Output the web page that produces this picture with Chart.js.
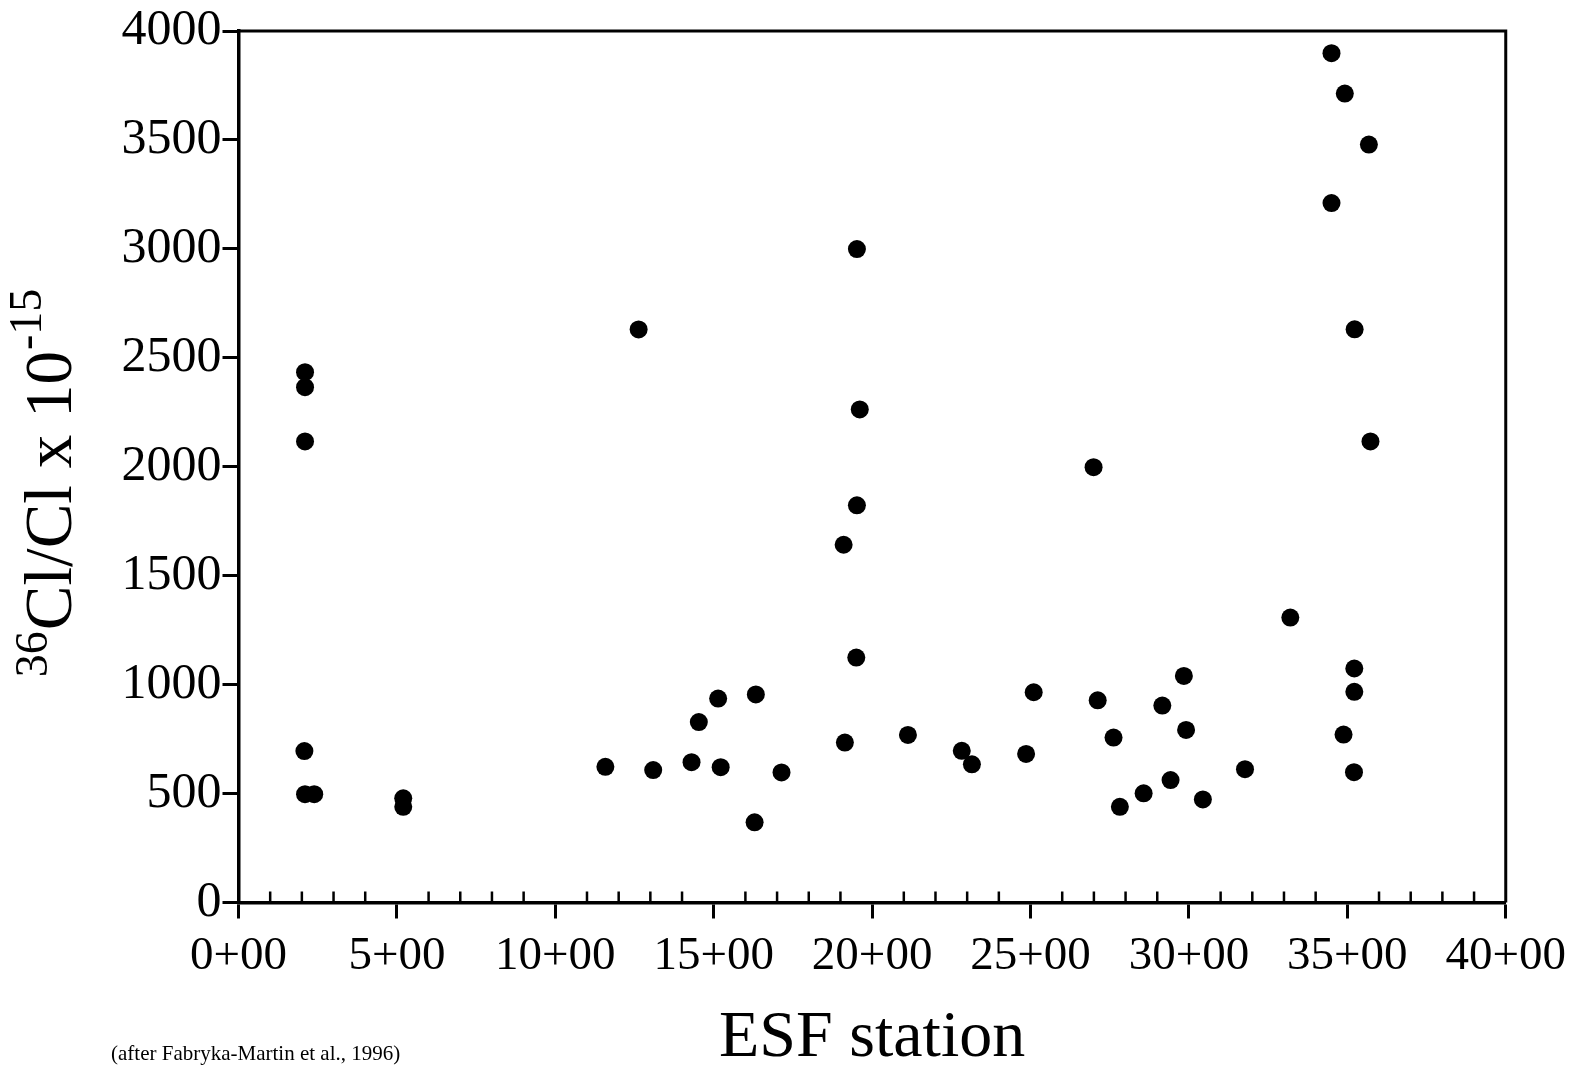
<!DOCTYPE html>
<html>
<head>
<meta charset="utf-8">
<script src="https://cdn.jsdelivr.net/npm/chart.js@4.4.1/dist/chart.umd.min.js"></script>
<style>
  html, body { margin: 0; padding: 0; background: #fff; }
  canvas { display: block; }
</style>
</head>
<body>
<canvas id="c" width="1576" height="1069"></canvas>
<script>
// ---- data ----
const stations = [
  2.10, 2.10, 2.10, 2.08, 2.10, 2.39,
  5.20, 5.20,
  11.58, 12.63, 13.09, 14.30, 14.53, 15.14, 15.22, 16.33, 16.29, 17.14,
  19.10, 19.14, 19.50, 19.52, 19.61, 19.52,
  21.13, 22.83, 23.15, 24.86, 25.10,
  26.99, 27.12, 27.62, 27.82, 28.57, 29.16, 29.42, 29.84, 29.91, 30.44, 31.77,
  33.20, 34.50, 34.92, 35.68, 34.50, 35.23, 35.73, 35.22, 35.22, 34.88, 35.21
];
const ratios = [
  2434, 2365, 2116, 695, 497, 497,
  478, 439,
  623, 2630, 608, 644, 828, 936, 621, 955, 368, 597,
  1642, 734, 1124, 1823, 2263, 2999,
  769, 696, 634, 682, 965,
  1998, 928, 757, 439, 501, 904, 562, 1040, 792, 473, 612,
  1308, 3898, 3713, 3479, 3210, 2631, 2116, 1074, 967, 771, 598
];
const xTickLabels = ['0+00', '5+00', '10+00', '15+00', '20+00', '25+00', '30+00', '35+00', '40+00'];
const yTickValues = [0, 500, 1000, 1500, 2000, 2500, 3000, 3500, 4000];
const xTitle = 'ESF station';
const yTitleParts = { pre: '36', main: 'Cl/Cl x 10', post: '-15' };
const footnote = '(after Fabryka-Martin et al., 1996)';

const SERIF = '"Liberation Serif", "Times New Roman", serif';

const decorations = {
  id: 'decorations',
  afterDraw(chart) {
    const { ctx, chartArea: a, scales: { x } } = chart;
    ctx.save();
    ctx.strokeStyle = '#000';
    ctx.fillStyle = '#000';
    // top and right frame
    ctx.lineWidth = 3;
    ctx.beginPath();
    ctx.moveTo(a.left, a.top);
    ctx.lineTo(a.right, a.top);
    ctx.lineTo(a.right, a.bottom);
    ctx.stroke();
    // minor ticks on x axis, pointing into the plot
    ctx.lineWidth = 2.5;
    ctx.beginPath();
    for (let v = 1; v < 40; v++) {
      if (v % 5 === 0) continue;
      const px = x.getPixelForValue(v);
      ctx.moveTo(px, a.bottom);
      ctx.lineTo(px, a.bottom - 11);
    }
    ctx.stroke();

    // y-axis title with superscripts
    const mainSize = 67, supSize = 46;
    const mainFont = mainSize + 'px ' + SERIF;
    const supFont = supSize + 'px ' + SERIF;
    ctx.font = supFont;
    const wPre = ctx.measureText(yTitleParts.pre).width;
    const wPost = ctx.measureText(yTitleParts.post).width;
    ctx.font = mainFont;
    const wMain = ctx.measureText(yTitleParts.main).width;
    const W = wPre + wMain + wPost + 2;
    ctx.translate(71, 483);
    ctx.rotate(-Math.PI / 2);
    ctx.textBaseline = 'alphabetic';
    ctx.textAlign = 'left';
    let cx = -W / 2;
    ctx.font = supFont;
    ctx.fillText(yTitleParts.pre, cx, -24);
    cx += wPre + 1;
    ctx.font = mainFont;
    ctx.fillText(yTitleParts.main, cx, 0);
    cx += wMain + 1;
    ctx.font = supFont;
    ctx.fillText(yTitleParts.post, cx, -30);
    ctx.restore();

    // footnote
    ctx.save();
    ctx.fillStyle = '#000';
    ctx.font = '21px ' + SERIF;
    ctx.textAlign = 'left';
    ctx.textBaseline = 'alphabetic';
    ctx.fillText(footnote, 111, 1060);
    ctx.restore();
  }
};

new Chart(document.getElementById('c'), {
  type: 'scatter',
  data: {
    datasets: [{
      data: stations.map((s, i) => ({ x: s, y: ratios[i] })),
      backgroundColor: '#000',
      borderColor: '#000',
      borderWidth: 0,
      pointRadius: 9,
      pointHoverRadius: 9
    }]
  },
  options: {
    responsive: false,
    animation: false,
    devicePixelRatio: 1,
    layout: { padding: { left: 0, top: 30, right: 69, bottom: 0 } },
    plugins: { legend: { display: false }, tooltip: { enabled: false } },
    scales: {
      x: {
        type: 'linear',
        position: 'bottom',
        min: 0, max: 40,
        ticks: {
          stepSize: 5,
          autoSkip: false,
          maxRotation: 0,
          color: '#000',
          padding: 10,
          font: { family: SERIF, size: 47 },
          callback: (v, i) => xTickLabels[i]
        },
        grid: { drawOnChartArea: false, drawTicks: true, tickLength: 16, tickWidth: 3, tickColor: '#000' },
        border: { display: true, color: '#000', width: 3.5 },
        title: {
          display: true, text: xTitle, color: '#000',
          font: { family: SERIF, size: 66, lineHeight: 1 },
          padding: { top: 0, bottom: -3 }
        },
        afterFit: (s) => { s.height = 166.5; }
      },
      y: {
        type: 'linear',
        min: 0, max: 4000,
        afterBuildTicks: (s) => { s.ticks = yTickValues.map(v => ({ value: v })); },
        ticks: {
          color: '#000',
          padding: 1,
          font: { family: SERIF, size: 50 },
          callback: (v) => String(v)
        },
        grid: { drawOnChartArea: false, drawTicks: true, tickLength: 16, tickWidth: 3, tickColor: '#000' },
        border: { display: true, color: '#000', width: 3.5 },
        afterFit: (s) => { s.width = 238.5; }
      }
    }
  },
  plugins: [decorations]
});
</script>
</body>
</html>
